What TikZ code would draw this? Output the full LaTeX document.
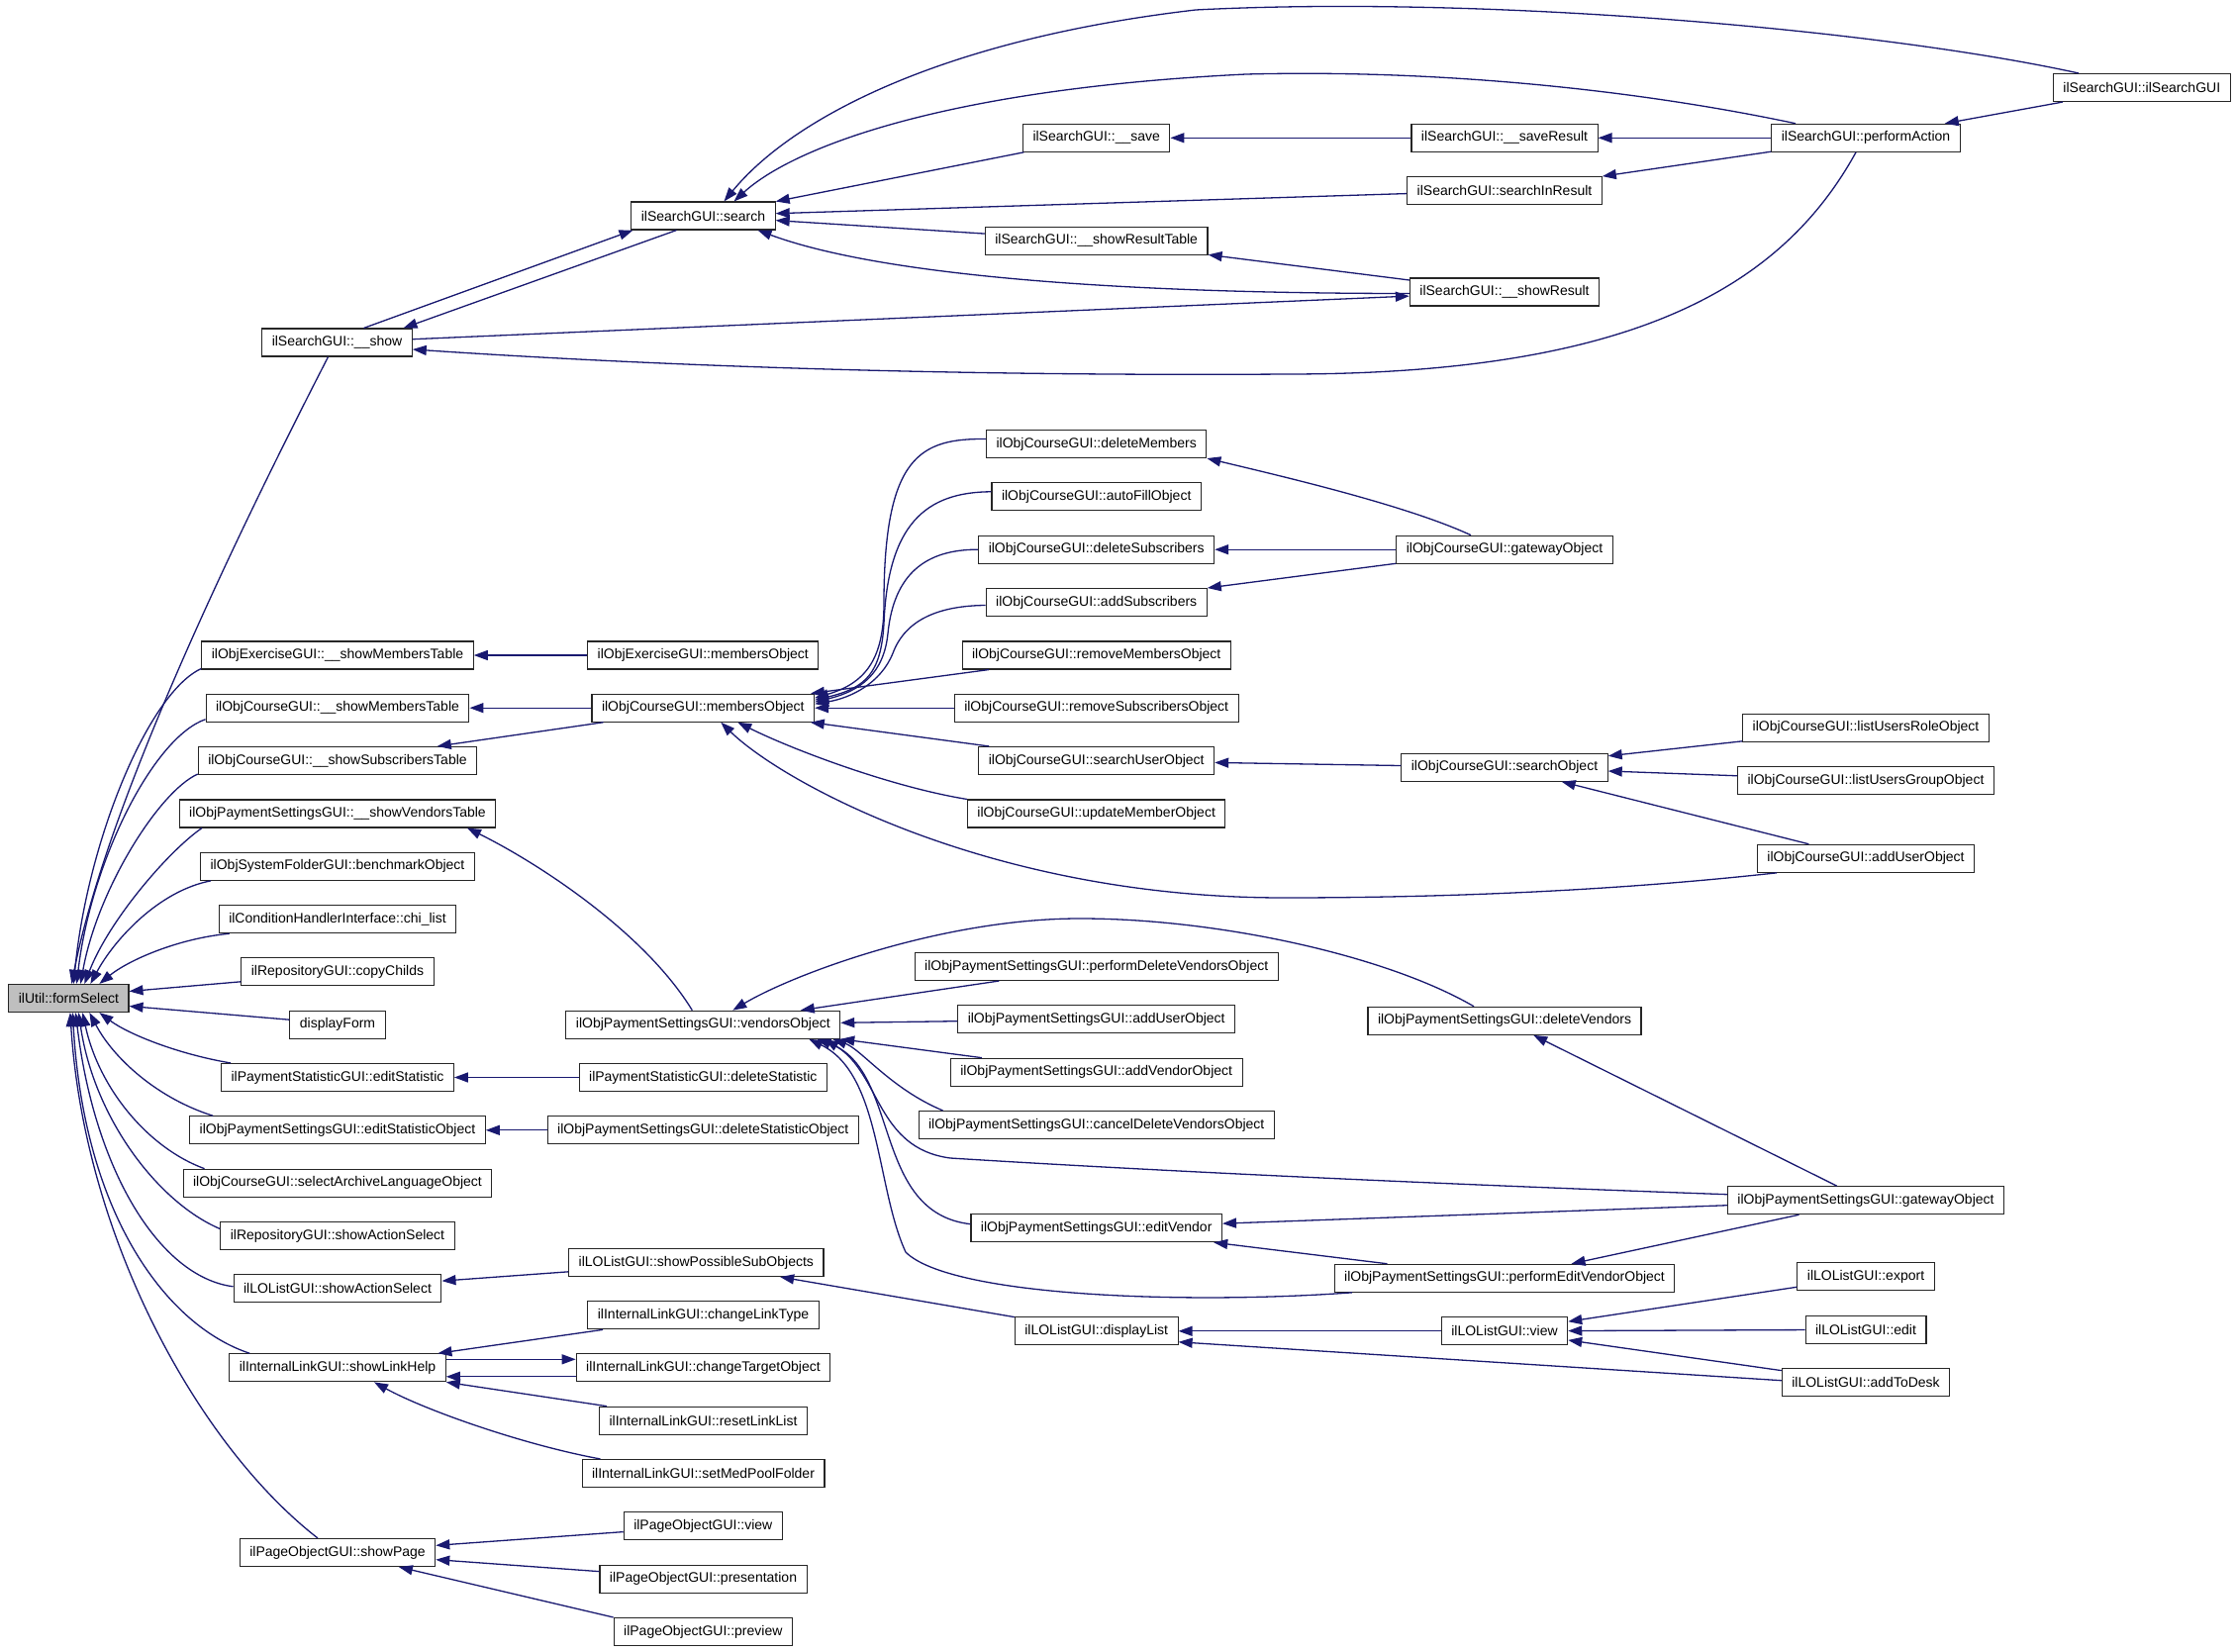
\documentclass[tikz,border=0pt]{standalone}
\usepackage{fontspec}
\setmainfont{Liberation Sans}
\usetikzlibrary{arrows.meta}
\definecolor{edgeblue}{HTML}{191970}
\definecolor{rootgray}{HTML}{BFBFBF}

\begin{document}
\begin{tikzpicture}[x=1pt, y=-1pt,
  fn/.style={draw=black!85, line width=1.1pt, fill=white, minimum height=28pt, inner xsep=10pt, inner ysep=0pt, font=\fontsize{14}{16}\selectfont},
  root/.style={fn, fill=rootgray},
  call/.style={draw=edgeblue, line width=1.3pt, <-, >={Triangle[length=14pt,width=10pt]}},
  revcall/.style={draw=edgeblue, line width=1.3pt, ->, >={Triangle[length=14pt,width=10pt]}}]
\useasboundingbox (0,0) rectangle (2259,1669);
\fill[white] (0,0) rectangle (2259,1669);

\node[root] (fs) at (69.4,1008.5) {ilUtil::formSelect};

\node[fn] (show) at (340.5,346) {ilSearchGUI::\_\_show};
\node[fn] (exs) at (341,662) {ilObjExerciseGUI::\_\_showMembersTable};
\node[fn] (cms) at (341,715.2) {ilObjCourseGUI::\_\_showMembersTable};
\node[fn] (cst) at (341,768.5) {ilObjCourseGUI::\_\_showSubscribersTable};
\node[fn] (svt) at (341,822) {ilObjPaymentSettingsGUI::\_\_showVendorsTable};
\node[fn] (bench) at (341,875.3) {ilObjSystemFolderGUI::benchmarkObject};
\node[fn] (chi) at (341,928.7) {ilConditionHandlerInterface::chi\_list};
\node[fn] (cc) at (341,981.8) {ilRepositoryGUI::copyChilds};
\node[fn] (df) at (341,1035.2) {displayForm};
\node[fn] (es) at (341,1088.5) {ilPaymentStatisticGUI::editStatistic};
\node[fn] (eso) at (341,1141.8) {ilObjPaymentSettingsGUI::editStatisticObject};
\node[fn] (sal) at (341,1195.2) {ilObjCourseGUI::selectArchiveLanguageObject};
\node[fn] (rsa) at (341,1248.5) {ilRepositoryGUI::showActionSelect};
\node[fn] (lsa) at (341,1301.8) {ilLOListGUI::showActionSelect};
\node[fn] (slh) at (341,1381.8) {ilInternalLinkGUI::showLinkHelp};
\node[fn] (sp) at (341,1568.5) {ilPageObjectGUI::showPage};

\node[fn] (search) at (710.5,218) {ilSearchGUI::search};
\node[fn] (emo) at (710.3,662) {ilObjExerciseGUI::membersObject};
\node[fn] (cmo) at (710.3,715.2) {ilObjCourseGUI::membersObject};
\node[fn] (vo) at (710.3,1035.2) {ilObjPaymentSettingsGUI::vendorsObject};
\node[fn] (dst) at (710.3,1088.5) {ilPaymentStatisticGUI::deleteStatistic};
\node[fn] (dso) at (710.3,1141.8) {ilObjPaymentSettingsGUI::deleteStatisticObject};
\node[fn] (pso) at (703.3,1275.5) {ilLOListGUI::showPossibleSubObjects};
\node[fn] (clt) at (710.5,1328.8) {ilInternalLinkGUI::changeLinkType};
\node[fn] (cto) at (710.5,1381.8) {ilInternalLinkGUI::changeTargetObject};
\node[fn] (rll) at (710.5,1435.2) {ilInternalLinkGUI::resetLinkList};
\node[fn] (mpf) at (710.5,1488.5) {ilInternalLinkGUI::setMedPoolFolder};
\node[fn] (pview) at (710.3,1541.8) {ilPageObjectGUI::view};
\node[fn] (pres) at (710.5,1595.2) {ilPageObjectGUI::presentation};
\node[fn] (prev) at (710.3,1648.5) {ilPageObjectGUI::preview};

\node[fn] (save) at (1107.7,139.3) {ilSearchGUI::\_\_save};
\node[fn] (srt) at (1107.7,243.2) {ilSearchGUI::\_\_showResultTable};
\node[fn] (dm) at (1107.7,448.5) {ilObjCourseGUI::deleteMembers};
\node[fn] (afo) at (1107.7,501.8) {ilObjCourseGUI::autoFillObject};
\node[fn] (dsub) at (1107.7,555.2) {ilObjCourseGUI::deleteSubscribers};
\node[fn] (asub) at (1107.7,608.5) {ilObjCourseGUI::addSubscribers};
\node[fn] (rmo) at (1107.7,662) {ilObjCourseGUI::removeMembersObject};
\node[fn] (rso) at (1107.7,715.2) {ilObjCourseGUI::removeSubscribersObject};
\node[fn] (suo) at (1107.7,768.5) {ilObjCourseGUI::searchUserObject};
\node[fn] (umo) at (1107.7,822) {ilObjCourseGUI::updateMemberObject};
\node[fn] (pdvo) at (1107.7,976.5) {ilObjPaymentSettingsGUI::performDeleteVendorsObject};
\node[fn] (pauo) at (1107.7,1029.8) {ilObjPaymentSettingsGUI::addUserObject};
\node[fn] (avo) at (1107.7,1083.2) {ilObjPaymentSettingsGUI::addVendorObject};
\node[fn] (cdvo) at (1107.7,1136.5) {ilObjPaymentSettingsGUI::cancelDeleteVendorsObject};
\node[fn] (ev) at (1107.7,1240.7) {ilObjPaymentSettingsGUI::editVendor};
\node[fn] (dl) at (1107.7,1344.8) {ilLOListGUI::displayList};

\node[fn] (saveres) at (1520,139.3) {ilSearchGUI::\_\_saveResult};
\node[fn] (sir) at (1520,192.5) {ilSearchGUI::searchInResult};
\node[fn] (sres) at (1520,295) {ilSearchGUI::\_\_showResult};
\node[fn] (cgw) at (1520,555.2) {ilObjCourseGUI::gatewayObject};
\node[fn] (so) at (1520,775.2) {ilObjCourseGUI::searchObject};
\node[fn] (dv) at (1520,1031.3) {ilObjPaymentSettingsGUI::deleteVendors};
\node[fn] (pevo) at (1520,1291.3) {ilObjPaymentSettingsGUI::performEditVendorObject};
\node[fn] (lview) at (1520,1344.8) {ilLOListGUI::view};

\node[fn] (pa) at (1885,139.3) {ilSearchGUI::performAction};
\node[fn] (luro) at (1885,735.2) {ilObjCourseGUI::listUsersRoleObject};
\node[fn] (lugo) at (1885,788.5) {ilObjCourseGUI::listUsersGroupObject};
\node[fn] (cauo) at (1885,867.3) {ilObjCourseGUI::addUserObject};
\node[fn] (pgw) at (1885,1212.7) {ilObjPaymentSettingsGUI::gatewayObject};
\node[fn] (exp) at (1885,1289.8) {ilLOListGUI::export};
\node[fn] (edit) at (1885,1343.3) {ilLOListGUI::edit};
\node[fn] (atd) at (1885,1396.7) {ilLOListGUI::addToDesk};

\node[fn] (isg) at (2163.8,88.5) {ilSearchGUI::ilSearchGUI};

% search
\draw[call] ([xshift=-71pt]search.south) -- ([xshift=27pt]show.north);
\draw[call] ([xshift=67pt]show.north) -- ([xshift=-27pt]search.south);
\draw[call] (search) -- (save);
\draw[call] (search) -- (sir);
\draw[call] (search) -- (srt);
\draw[call] ([xshift=55pt]search.south) .. controls (880,275) and (1100,296.5) .. ([yshift=-1.5pt]sres.west);
\draw[revcall] (show) -- (sres);
\draw[call] ([yshift=-7pt]show.east) .. controls (700,372) and (1000,380) .. (1300,378) .. controls (1650,378) and (1800,290) .. ([xshift=-10pt]pa.south);
\draw[call] ([xshift=21pt]search.north) .. controls (800,120) and (950,40) .. (1208,10) .. controls (1500,-5) and (1900,30) .. ([xshift=26pt]isg.north west);
\draw[call] ([xshift=31pt]search.north) .. controls (800,150) and (950,90) .. (1259,75) .. controls (1450,70) and (1650,90) .. ([xshift=-71pt]pa.north);
\draw[call] (save) -- (saveres);
\draw[call] (saveres) -- (pa);
\draw[call] (sir) -- (pa);
\draw[call] (srt) -- (sres);
\draw[call] (pa) -- (isg);

% formSelect
\draw[call] ([xshift=3pt]fs.north) .. controls (110,800) and (260,500) .. ([xshift=-9pt]show.south);
\draw[call] ([xshift=5pt]fs.north) .. controls (88,850) and (150,700) .. ([yshift=1pt]exs.south west);
\draw[call] ([xshift=8pt]fs.north) .. controls (92,870) and (155,745) .. ([yshift=3pt]cms.south west);
\draw[call] ([xshift=12pt]fs.north) .. controls (98,900) and (160,800) .. ([yshift=1pt]cst.south west);
\draw[call] ([xshift=16pt]fs.north) .. controls (110,930) and (170,860) .. ([xshift=-137pt]svt.south);
\draw[call] ([xshift=22pt]fs.north) .. controls (115,950) and (160,900) .. ([xshift=11pt]bench.south west);
\draw[call] ([xshift=31pt]fs.north) .. controls (130,970) and (180,948) .. ([xshift=11pt]chi.south west);
\draw[call] ([yshift=7pt]fs.east) -- ([yshift=-10pt]cc.west);
\draw[call] ([yshift=-8pt]fs.east) -- ([yshift=5pt]df.west);
\draw[call] ([xshift=31pt]fs.south) .. controls (130,1045) and (180,1065) .. ([xshift=10pt]es.north west);
\draw[call] ([xshift=21pt]fs.south) .. controls (115,1070) and (160,1110) .. ([xshift=24pt]eso.north west);
\draw[call] ([xshift=14pt]fs.south) .. controls (100,1100) and (150,1160) .. ([xshift=22pt]sal.north west);
\draw[call] ([xshift=10pt]fs.south) .. controls (95,1130) and (160,1215) .. ([yshift=7pt]rsa.west);
\draw[call] ([xshift=7pt]fs.south) .. controls (95,1180) and (160,1290) .. ([yshift=2pt]lsa.west);
\draw[call] ([xshift=4pt]fs.south) .. controls (85,1230) and (170,1340) .. ([xshift=21pt]slh.north west);
\draw[call] ([xshift=1.5pt]fs.south) .. controls (85,1250) and (200,1460) .. ([xshift=-20pt]sp.north);

% course
\draw[call] (exs) -- (emo);
\draw[call] (cms) -- (cmo);
\draw[call] (cst) -- (cmo);
\draw[call] ([yshift=10pt]cmo.east) .. controls (875,690) and (893,665) .. (893,610) .. controls (893,460) and (930,443) .. ([yshift=5pt]dm.west);
\draw[call] ([yshift=8pt]cmo.east) .. controls (875,695) and (890,680) .. (893,630) .. controls (897,530) and (935,497) .. ([yshift=5pt]afo.west);
\draw[call] ([yshift=6pt]cmo.east) .. controls (870,698) and (893,680) .. (897,640) .. controls (903,580) and (935,555) .. (dsub.west);
\draw[call] ([yshift=4pt]cmo.east) .. controls (860,705) and (890,690) .. (902,660) .. controls (915,625) and (950,612) .. ([yshift=-3pt]asub.west);
\draw[call] (cmo) -- (rmo);
\draw[call] (cmo) -- (rso);
\draw[call] (cmo) -- (suo);
\draw[call] ([xshift=35pt]cmo.south) .. controls (800,757) and (900,795) .. (umo.north west);
\draw[call] ([xshift=18pt]cmo.south) .. controls (790,790) and (1000,907) .. (1297,907) .. controls (1550,907) and (1720,890) .. ([xshift=-90pt]cauo.south);
\draw[call] (dm.south east) .. controls (1290,480) and (1420,510) .. ([xshift=-34pt]cgw.north);
\draw[call] (dsub) -- (cgw);
\draw[call] (asub) -- (cgw);
\draw[call] (suo) -- (so);
\draw[call] (so) -- (luro);
\draw[call] (so) -- (lugo);
\draw[call] (so) -- (cauo);

% payment
\draw[call] ([xshift=131pt]svt.south) .. controls (540,870) and (650,940) .. ([xshift=-11pt]vo.north);
\draw[call] ([xshift=30pt]vo.north) .. controls (800,985) and (950,928) .. (1091,928) .. controls (1230,928) and (1400,965) .. ([xshift=-31pt]dv.north);
\draw[call] (vo) -- (pdvo);
\draw[call] (vo) -- (pauo);
\draw[call] (vo.south east) -- ([xshift=32pt]avo.north west);
\draw[call] ([xshift=-8pt]vo.south east) .. controls (870,1060) and (900,1100) .. ([xshift=25pt]cdvo.north west);
\draw[call] ([xshift=-16pt]vo.south east) .. controls (890,1085) and (885,1160) .. (960,1170) .. controls (1200,1185) and (1500,1198) .. ([yshift=6pt]pgw.west);
\draw[call] ([xshift=-24pt]vo.south east) .. controls (910,1080) and (880,1225) .. ([yshift=4pt]ev.west);
\draw[call] ([xshift=-32pt]vo.south east) .. controls (890,1085) and (885,1200) .. (915,1265) .. controls (960,1310) and (1200,1318) .. ([xshift=-154pt]pevo.south);
\draw[call] (dv) -- (pgw);
\draw[call] (ev) -- (pgw);
\draw[call] (ev) -- (pevo);
\draw[call] (pevo) -- (pgw);
\draw[call] (es) -- (dst);
\draw[call] (eso) -- (dso);

% lolist
\draw[call] (lsa) -- (pso);
\draw[call] (pso) -- (dl);
\draw[call] (dl) -- (lview);
\draw[call] ([yshift=-11pt]dl.east) -- ([yshift=2pt]atd.west);
\draw[call] (lview) -- (exp);
\draw[call] (lview) -- (edit);
\draw[call] (lview) -- (atd);

% internal link
\draw[call] (slh) -- (clt);
\draw[revcall] ([yshift=8.5pt]slh.east) -- ([yshift=8.5pt]cto.west);
\draw[call] ([yshift=-9pt]slh.east) -- ([yshift=-9pt]cto.west);
\draw[call] (slh.south east) -- ([xshift=8pt]rll.north west);
\draw[call] ([xshift=37pt]slh.south) .. controls (430,1425) and (530,1460) .. ([xshift=19pt]mpf.north west);

% page object
\draw[call] (sp) -- (pview);
\draw[call] (sp) -- (pres);
\draw[call] (sp) -- (prev.north west);

\end{tikzpicture}
\end{document}
